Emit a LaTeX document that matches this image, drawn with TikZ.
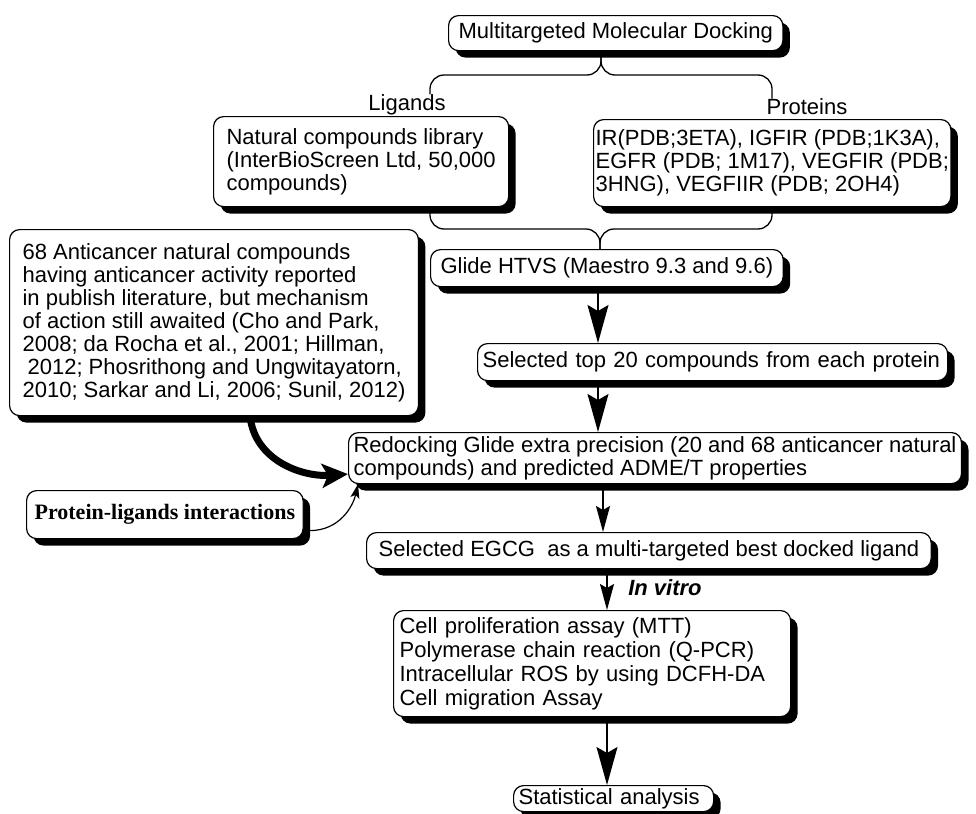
\documentclass[tikz,border=0pt]{standalone}
\usepackage{fontspec}
\setmainfont{Liberation Sans}
\newfontfamily\timesfont{Liberation Serif}
\usetikzlibrary{shadows,arrows.meta}

\begin{document}
\begin{tikzpicture}[x=0.5pt,y=-0.5pt,
    box/.style={draw,line width=0.6pt,rounded corners=5pt,fill=white,anchor=north west,
      align=left,inner xsep=2.5pt,inner ysep=1pt,font=\fontsize{11}{11.5}\selectfont,
      drop shadow={shadow xshift=3.5pt,shadow yshift=-3.5pt,fill=black,opacity=1}},
    lbl/.style={inner sep=0pt,font=\fontsize{11}{11.5}\selectfont},
    arr/.style={line width=0.75pt,-{Stealth[length=19pt,width=10.5pt,inset=3pt]}},
    arrs/.style={line width=0.75pt,-{Stealth[length=13pt,width=7pt,inset=2pt]}},
    brace/.style={line width=0.65pt,rounded corners=7pt}]
        \useasboundingbox (0,0) rectangle (976,814);

        \node [box,inner xsep=5pt,minimum height=17.5pt] (Top) at (448,15) {Multitargeted Molecular Docking};
        \node [lbl] (Lig) at (407,105) {Ligands};
        \node [lbl] (Pro) at (807,107) {Proteins};
        \node [box,inner xsep=6.5pt,minimum height=45pt] (Lib) at (213,116) {Natural compounds library\\(InterBioScreen Ltd, 50,000\\compounds)};
        \node [box,inner xsep=1pt,minimum height=43.5pt] (Prot) at (593,119) {IR(PDB;3ETA), IGFIR (PDB;1K3A),\\EGFR (PDB; 1M17), VEGFIR (PDB;\\3HNG), VEGFIIR (PDB; 2OH4)};
        \node [box,inner xsep=6.5pt,minimum height=93pt] (Lit) at (9,229) {68 Anticancer natural compounds\\having anticancer activity reported\\in publish literature, but mechanism\\of action still awaited (Cho and Park,\\2008; da Rocha et al., 2001; Hillman,\\\hspace{2.5pt}2012; Phosrithong and Ungwitayatorn,\\2010; Sarkar and Li, 2006; Sunil, 2012)};
        \node [box,inner xsep=5pt,minimum height=18.5pt] (HTVS) at (430,249) {Glide HTVS (Maestro 9.3 and 9.6)};
        \node [box,text width=230pt,minimum height=18.5pt] (Top20) at (477,343) {Selected top 20 compounds from each protein};
        \node [box,minimum height=25.5pt] (Redock) at (348,432) {Redocking Glide extra precision (20 and 68 anticancer natural\\compounds) and predicted ADME/T properties};
        \node [box,inner xsep=6pt,minimum height=18pt] (EGCG) at (366,532) {Selected EGCG\ \ as a multi-targeted best docked ligand};
        \node [lbl,font=\fontsize{11}{11.5}\selectfont\bfseries\itshape] (Vitro) at (665,588) {In vitro};
        \node [box,inner xsep=3pt,text width=192.5pt,minimum height=53pt,font=\fontsize{11}{12}\selectfont] (Assay) at (393,610) {Cell proliferation assay (MTT)\\Polymerase chain reaction (Q-PCR)\\Intracellular ROS by using DCFH-DA\\Cell migration Assay};
        \node [box,text width=95pt,minimum height=13pt] (Stat) at (513,785) {Statistical analysis};
        \node [box,inner xsep=4pt,minimum height=24pt,font=\fontsize{11}{11.5}\selectfont\timesfont\bfseries] (PLI) at (26,490) {Protein-ligands interactions};

        % brace points and arrow lines
        \coordinate (BL) at (430,0);
        \coordinate (BR) at (772,0);
        \coordinate (J1) at (601,75);
        \coordinate (J2) at (600,229);
        \coordinate (X1) at (598,0);
        \coordinate (X2) at (603,0);
        \coordinate (X3) at (607,0);
        \coordinate (C1) at (250,0);

        \draw [brace] (Lig.north -| BL) |- (J1) -- ++(0,-18);
        \draw [brace] (Pro.north -| BR) |- (J1) -- ++(0,-18);
        \draw [brace] (Lib.south -| BL) |- (J2) -- (HTVS.north -| J2);
        \draw [brace] (Prot.south -| BR) |- (J2) -- (HTVS.north -| J2);

        \draw [arr] (HTVS.south -| X1) -- (Top20.north -| X1);
        \draw [arr] (Top20.south -| X1) -- (Redock.north -| X1);
        \draw [arrs] (Redock.south -| X2) -- (EGCG.north -| X2);
        \draw [arrs] (EGCG.south -| X3) -- (Assay.north -| X3);
        \draw [arr] (Assay.south -| X3) -- (Stat.north -| X3);

        \draw [line width=3.5pt,-{Stealth[length=13pt,width=12pt,inset=3pt]}] (Lit.south -| C1) .. controls +(5,45) and +(-45,3) .. ([yshift=-8pt]Redock.west);
        \draw [line width=0.6pt,-{Stealth[length=7pt,width=4.5pt,inset=1.5pt]}] ([xshift=3pt,yshift=-8pt]PLI.east) .. controls +(30,0) and +(-5,22) .. ([xshift=5pt]Redock.south west);

    \end{tikzpicture}
\end{document}
